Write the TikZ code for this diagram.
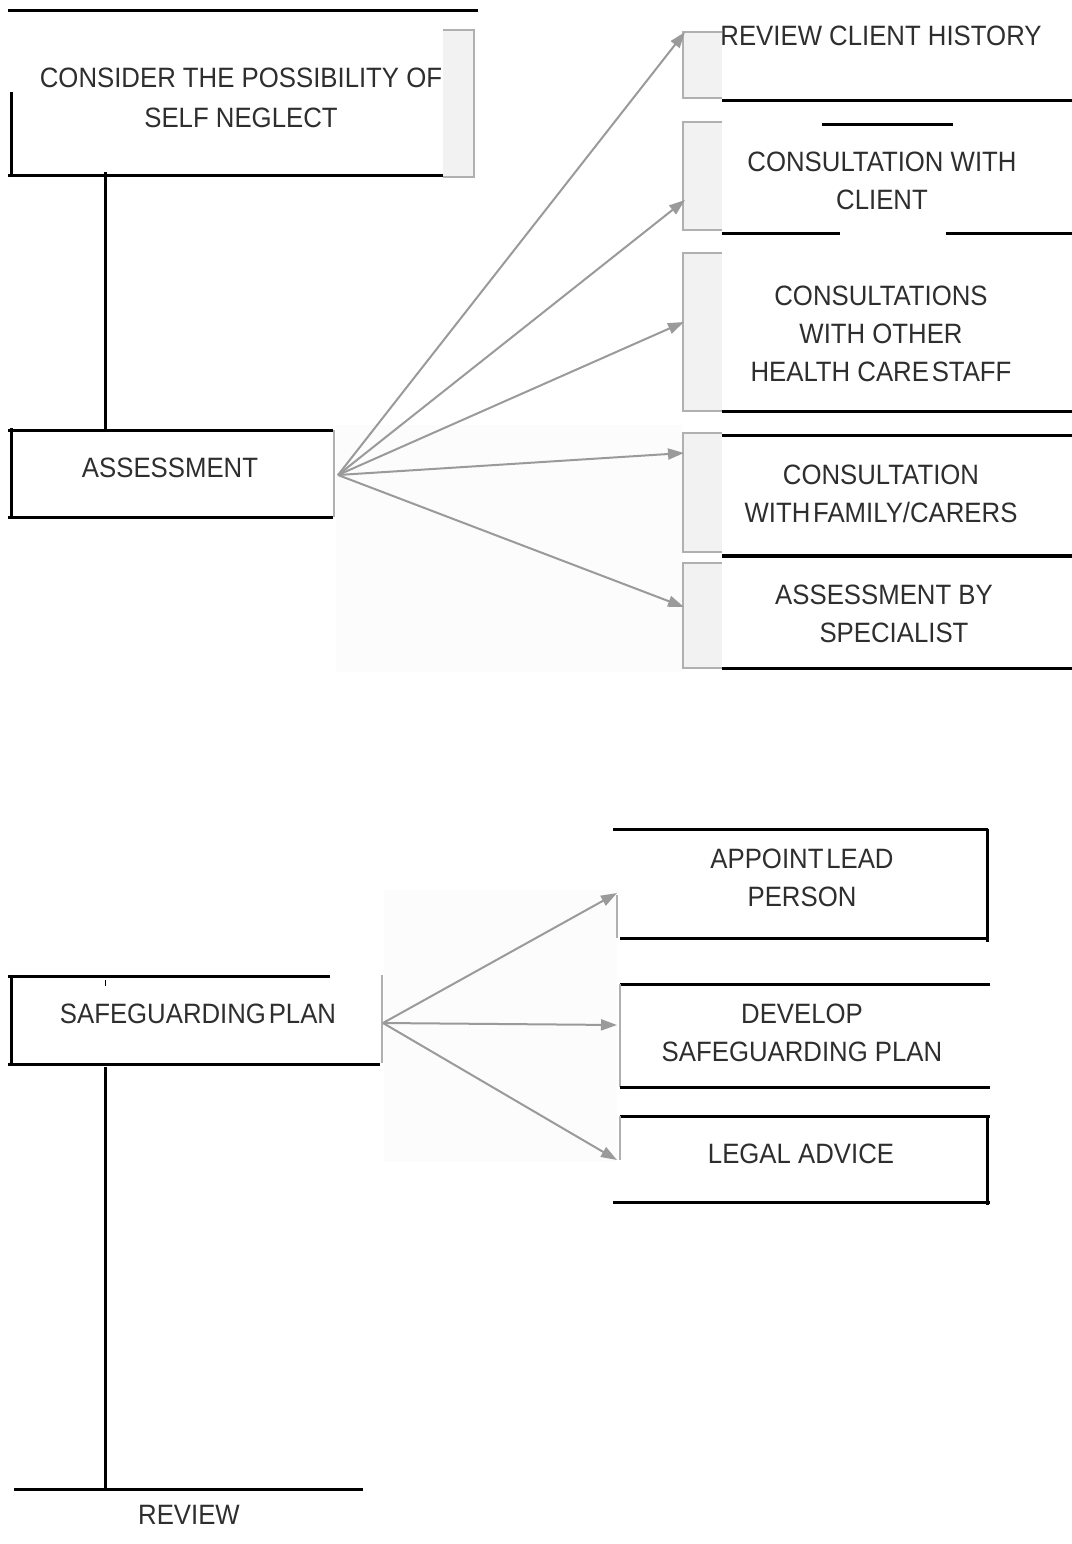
\documentclass[tikz,border=0pt]{standalone}
\usepackage{fontspec}
\setmainfont{Liberation Sans}[FakeStretch=0.92]
\usetikzlibrary{arrows.meta}
\definecolor{textgray}{HTML}{2E2E2E}
\definecolor{arrowgray}{HTML}{9A9A9A}
\definecolor{stubfill}{HTML}{F2F2F2}
\definecolor{stubdraw}{HTML}{B0B0B0}
\definecolor{scanbg}{HTML}{FCFCFC}
\begin{document}
\begin{tikzpicture}[x=0.5pt,y=-0.5pt,
  blk/.style={line width=1.5pt,black},
  blkthick/.style={line width=2pt,black},
  faint/.style={line width=0.8pt,draw=stubdraw},
  lbl/.style={text=textgray,font=\fontsize{14}{19}\selectfont,align=center,inner sep=0pt},
  arr/.style={draw=arrowgray,line width=1pt,-{Triangle[length=8pt,width=5.5pt]}},
  stubbox/.style={fill=stubfill}]
\useasboundingbox (0,0) rectangle (1072,1544);

% faint scanned backgrounds
\fill[scanbg] (336,425) rectangle (683,672);
\fill[scanbg] (384,890) rectangle (617,1162);

% ---------- CONSIDER box ----------
\fill[stubfill] (443,30) rectangle (474,177);
\draw[faint] (443,30) -- (474,30) -- (474,177) -- (443,177);
\draw[blk] (8,10) -- (478,10);
\draw[blk] (11,92) -- (11,177);
\draw[blk] (8,175) -- (443,175);
\node[lbl,font=\fontsize{14}{20}\selectfont] (consider) at (241,97.5) {CONSIDER THE POSSIBILITY OF\\SELF NEGLECT};

% ---------- ASSESSMENT box ----------
\draw[blk] (8,430) -- (333,430);
\draw[blk] (11,428) -- (11,518);
\draw[blk] (8,517) -- (333,517);
\draw[faint] (334,430) -- (334,517);
\node[lbl] (assess) at (170,468) {ASSESSMENT};

\coordinate (consider-s) at (105,172);
\coordinate (assess-n) at (105,430);
\draw[blk] (consider-s) -- (assess-n);

% ---------- right stubs (upper) ----------
\foreach \ya/\yb in {32/98, 122/230, 253/411, 433/552, 563/668}{
  \fill[stubfill] (683,\ya) rectangle (722,\yb);
  \draw[faint] (722,\ya) -- (683,\ya) -- (683,\yb) -- (722,\yb);
}

% upper right lines
\draw[blk] (722,100) -- (1072,100);
\draw[blk] (822,124) -- (953,124);
\draw[blk] (722,233) -- (840,233);
\draw[blk] (946,233) -- (1072,233);
\draw[blk] (722,411) -- (1072,411);
\draw[blk] (722,435) -- (1072,435);
\draw[blkthick] (722,556) -- (1072,556);
\draw[blk] (722,668) -- (1072,668);

\node[lbl] (hist) at (881,36) {REVIEW CLIENT HISTORY};
\node[lbl] (client) at (882,181) {CONSULTATION WITH\\CLIENT};
\node[lbl] (staff) at (881,333.5) {CONSULTATIONS\\WITH OTHER\\HEALTH CARE\hspace{0.1em}STAFF};
\node[lbl] (family) at (881,494) {CONSULTATION\\WITH\hspace{0.1em}FAMILY/CARERS};
\node[lbl] (special) at (884,614) {ASSESSMENT BY\\\hspace*{10pt}SPECIALIST};

\coordinate (assess-out) at (338,475);
\coordinate (hist-in) at (685,32);
\coordinate (client-in) at (685,200);
\coordinate (staff-in) at (684,322);
\coordinate (family-in) at (684,453);
\coordinate (special-in) at (684,607);
\foreach \t in {hist-in,client-in,staff-in,family-in,special-in}
  \draw[arr] (assess-out) -- (\t);

% ---------- SAFEGUARDING PLAN box ----------
\draw[blk] (8,976) -- (330,976);
\draw[blk] (11,976) -- (11,1065);
\draw[blk] (8,1064) -- (380,1064);
\draw[faint] (382,975) -- (382,1063);
\draw[line width=0.5pt] (105,980) -- (105,986);
\node[lbl] (safe) at (198,1014) {SAFEGUARDING\hspace{0.1em}PLAN};

% right boxes (lower)
\draw[blk] (613,829) -- (988,829);
\draw[blk] (987,829) -- (987,942);
\draw[blk] (620,938) -- (988,938);
\draw[faint] (617,895) -- (617,938);
\node[lbl] (lead) at (802,878) {APPOINT\hspace{0.1em}LEAD\\PERSON};

\draw[blk] (620,984) -- (990,984);
\draw[faint] (620,984) -- (620,1087);
\draw[blk] (620,1087) -- (990,1087);
\node[lbl] (develop) at (802,1033) {DEVELOP\\SAFEGUARDING PLAN};

\draw[blk] (620,1116) -- (990,1116);
\draw[blk] (987,1116) -- (987,1205);
\draw[blk] (613,1202) -- (990,1202);
\draw[faint] (620,1116) -- (620,1160);
\node[lbl] (legal) at (801,1154) {LEGAL ADVICE};

\coordinate (safe-out) at (383,1023);
\coordinate (lead-in) at (617,893);
\coordinate (develop-in) at (617,1025);
\coordinate (legal-in) at (617,1160);
\foreach \t in {lead-in,develop-in,legal-in}
  \draw[arr] (safe-out) -- (\t);

% ---------- REVIEW ----------
\coordinate (safe-s) at (105,1067);
\coordinate (review-n) at (105,1490);
\draw[blk] (safe-s) -- (review-n);
\draw[blk] (14,1489) -- (363,1489);
\node[lbl] (review) at (189,1515) {REVIEW};
\end{tikzpicture}
\end{document}
